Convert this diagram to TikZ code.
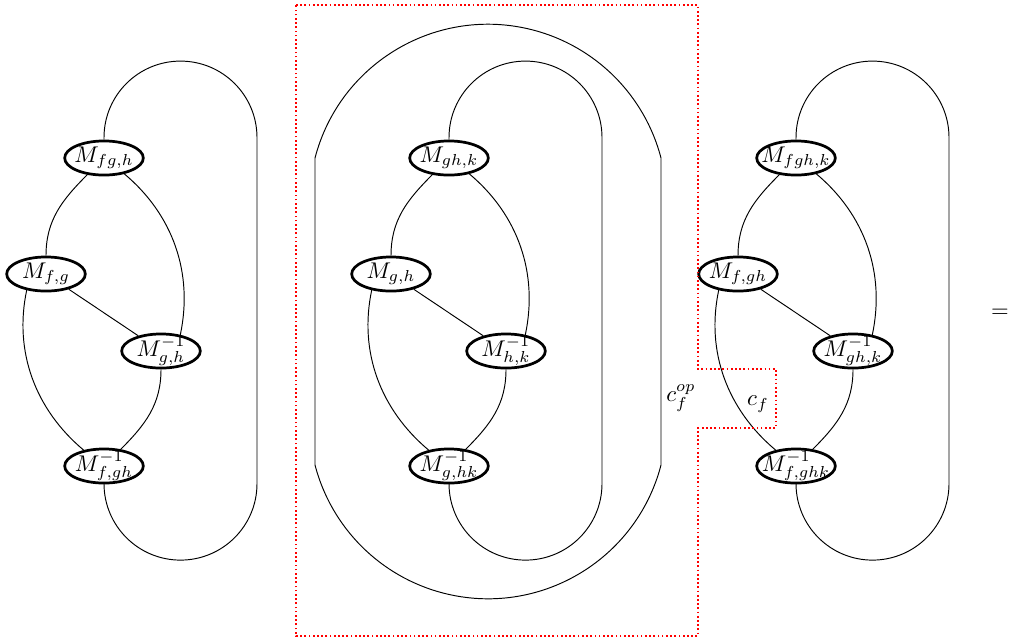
\documentclass[tikz,border=0pt]{standalone}
\usetikzlibrary{shapes.geometric}
\begin{document}
\begin{tikzpicture}[x=0.44pt,y=0.44pt,
  mnode/.style={ellipse,draw,very thick,inner sep=-4pt,minimum width=34.6pt,minimum height=15pt},
  strand/.style={line width=0.42pt},
  boxline/.style={red,line width=0.75pt,dash pattern=on 0.75pt off 1.1pt}]
\useasboundingbox (0,0) rectangle (1009,-641);
% left diagram
\node[mnode] (A1) at (104,-158) {$M_{fg,h}$};
\node[mnode] (B1) at (46,-274) {$M_{f,g}$};
\node[mnode] (C1) at (161,-351) {$M^{-1}_{g,h}$};
\node[mnode] (D1) at (104,-466) {$M^{-1}_{f,gh}$};
% middle diagram
\node[mnode] (A2) at (449,-158) {$M_{gh,k}$};
\node[mnode] (B2) at (391,-274) {$M_{g,h}$};
\node[mnode] (C2) at (506,-351) {$M^{-1}_{h,k}$};
\node[mnode] (D2) at (449,-466) {$M^{-1}_{g,hk}$};
% right diagram
\node[mnode] (A3) at (796,-158) {$M_{fgh,k}$};
\node[mnode] (B3) at (738,-274) {$M_{f,gh}$};
\node[mnode] (C3) at (853,-351) {$M^{-1}_{gh,k}$};
\node[mnode] (D3) at (796,-466) {$M^{-1}_{f,ghk}$};
\foreach \i in {1,2,3}{
  \draw[strand] (A\i) to[out=-135,in=90] (B\i);
  \draw[strand] (A\i.-38) to[out=-40,in=78,looseness=0.95] (C\i.40);
  \draw[strand] (B\i) -- (C\i);
  \draw[strand] (B\i.220) to[out=258,in=140,looseness=0.95] (D\i.142);
  \draw[strand] (C\i) to[out=-90,in=45] (D\i);
  \draw[strand] (A\i.north) -- ++(0,2) arc[start angle=180,end angle=0,radius=76.5]
     -- ++(0,-346) arc[start angle=0,end angle=-180,radius=76.5] -- (D\i.south);
}
% outer loop of the middle diagram
\draw[strand] (315,-158) arc[start angle=165.42,end angle=14.58,radius=178.76]
   -- (661,-465) arc[start angle=-14.58,end angle=-165.42,radius=178.76] -- cycle;
% dotted region
\draw[boxline] (296,-5) -- (698,-5) -- (698,-369) -- (776,-369) -- (776,-428)
   -- (698,-428) -- (698,-636) -- (296,-636) -- cycle;
\node (cop) at (681,-398) {$c_f^{op}$};
\node (cf) at (758,-404) {$c_f$};
\node (eq) at (1000,-313) {$=$};
\end{tikzpicture}
\end{document}
